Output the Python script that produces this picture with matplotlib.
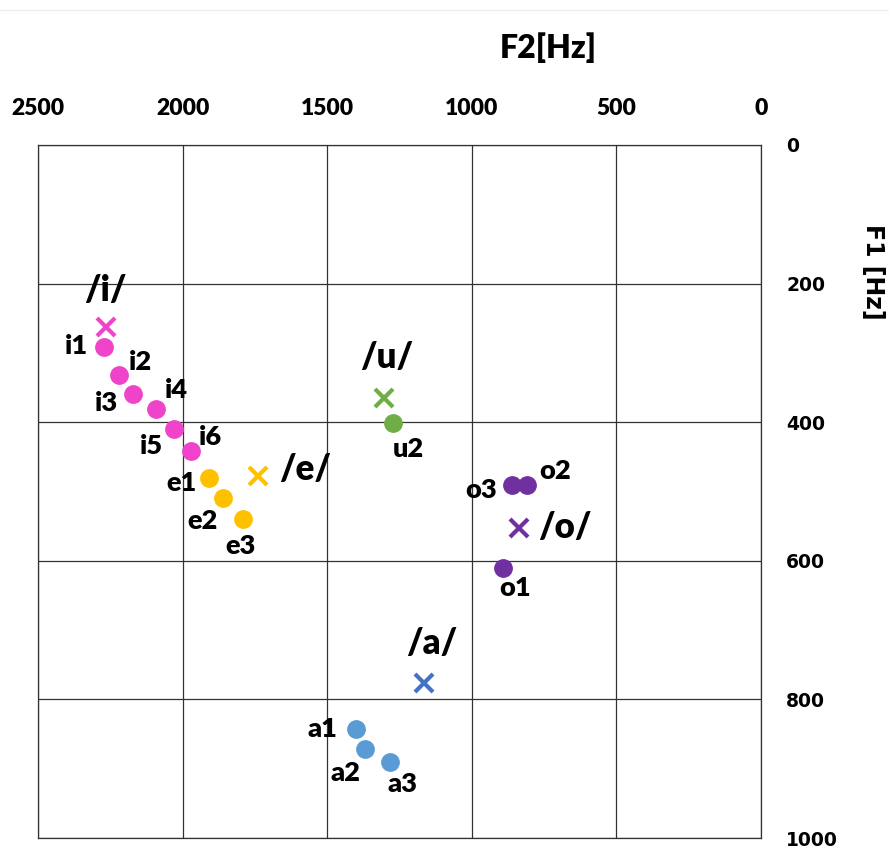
import matplotlib
matplotlib.use('Agg')
from matplotlib import pyplot as plt
from matplotlib.lines import Line2D

# vowel samples: F2, F1 (Hz)
i_labels = ['i1', 'i2', 'i3', 'i4', 'i5', 'i6']
i_f2 = [2271, 2221, 2171, 2092, 2030, 1971]
i_f1 = [291, 332, 360, 381, 410, 441]

e_labels = ['e1', 'e2', 'e3']
e_f2 = [1909, 1860, 1790]
e_f1 = [481, 510, 540]

u_labels = ['u2']
u_f2 = [1271]
u_f1 = [401]

o_labels = ['o1', 'o2', 'o3']
o_f2 = [891, 810, 862]
o_f1 = [610, 491, 491]

a_labels = ['a1', 'a2', 'a3']
a_f2 = [1399, 1369, 1282]
a_f1 = [842, 871, 891]

# reference vowels (x markers)
ref_labels = ['/i/', '/e/', '/u/', '/o/', '/a/']
ref_f2 = [2265, 1738, 1303, 837, 1165]
ref_f1 = [263, 477, 365, 552, 777]

x_ticks = [2500, 2000, 1500, 1000, 500, 0]
y_ticks = [0, 200, 400, 600, 800, 1000]

pink = '#EF43C9'
yellow = '#FFC000'
green = '#70AD47'
purple = '#7030A0'
blue_x = '#4472C4'
blue_dot = '#5B9BD5'
ref_colors = [pink, yellow, green, purple, blue_x]

label_font = ['Lato', 'DejaVu Sans']
heavy = 'heavy'

fig = plt.figure(figsize=(8.89, 8.5), dpi=100)
ax = fig.add_axes([38 / 889, 12 / 850, 723 / 889, 693 / 850])

groups = [
    (i_f2, i_f1, i_labels, pink),
    (e_f2, e_f1, e_labels, yellow),
    (u_f2, u_f1, u_labels, green),
    (o_f2, o_f1, o_labels, purple),
    (a_f2, a_f1, a_labels, blue_dot),
]
for f2, f1, labels, col in groups:
    ax.plot(f2, f1, 'o', color=col, markersize=12.5, zorder=3, linestyle='none')

for f2, f1, col in zip(ref_f2, ref_f1, ref_colors):
    ax.plot(f2, f1, 'x', color=col, markersize=13, markeredgewidth=3, zorder=3)

# label offsets in pixels (dx, dy)
offsets = {
    'i1': (-28, 1), 'i2': (22, 13), 'i3': (-27, -9), 'i4': (20, 19),
    'i5': (-22, -17), 'i6': (19, 14),
    'e1': (-27, -5), 'e2': (-21, -23), 'e3': (-3, -27),
    'u2': (15, -26),
    'o1': (12, -20), 'o2': (28, 14), 'o3': (-31, -5),
    'a1': (-34, 0), 'a2': (-20, -24), 'a3': (12, -22),
    '/i/': (-1, 37), '/e/': (47, 6), '/u/': (2, 40), '/o/': (46, 0), '/a/': (8, 40),
}

for f2, f1, labels, col in groups:
    for x, y, lab in zip(f2, f1, labels):
        ax.annotate(lab, (x, y), xytext=offsets[lab], textcoords='offset pixels',
                    ha='center', va='center', fontsize=19.5, fontweight=heavy,
                    family=label_font)

for x, y, lab in zip(ref_f2, ref_f1, ref_labels):
    ax.annotate(lab, (x, y), xytext=offsets[lab], textcoords='offset pixels',
                ha='center', va='center', fontsize=25, fontweight=heavy,
                family=label_font)

ax.set_xlim(2500, 0)
ax.set_ylim(1000, 0)
ax.set_xticks(x_ticks)
ax.set_yticks(y_ticks)
ax.grid(True, color='#333333', linewidth=0.9)
ax.set_axisbelow(True)
for s in ax.spines.values():
    s.set_color('#333333')
    s.set_linewidth(0.9)

ax.xaxis.tick_top()
ax.yaxis.tick_right()
ax.tick_params(axis='both', length=0)
ax.tick_params(axis='x', pad=19)
ax.tick_params(axis='y', pad=18)
for t in ax.get_xticklabels():
    t.set_fontsize(16.5)
    t.set_fontweight(heavy)
    t.set_family(label_font)
for t in ax.get_yticklabels():
    t.set_fontsize(13.5)
    t.set_fontweight('bold')
    t.set_family('DejaVu Sans')
    t.set_horizontalalignment('left')

fig.text(548 / 889, 1 - 48 / 850, 'F2[Hz]', ha='center', va='center',
         fontsize=23, fontweight=heavy, family=label_font)
fig.text(873 / 889, 1 - 272 / 850, 'F1 [Hz]', ha='center', va='center',
         rotation=-90, fontsize=17, fontweight='bold', family='DejaVu Sans')

fig.add_artist(Line2D([0, 1], [1 - 10 / 850, 1 - 10 / 850], color='#eeeeee', linewidth=1))

fig.savefig('out.png', dpi=100)
